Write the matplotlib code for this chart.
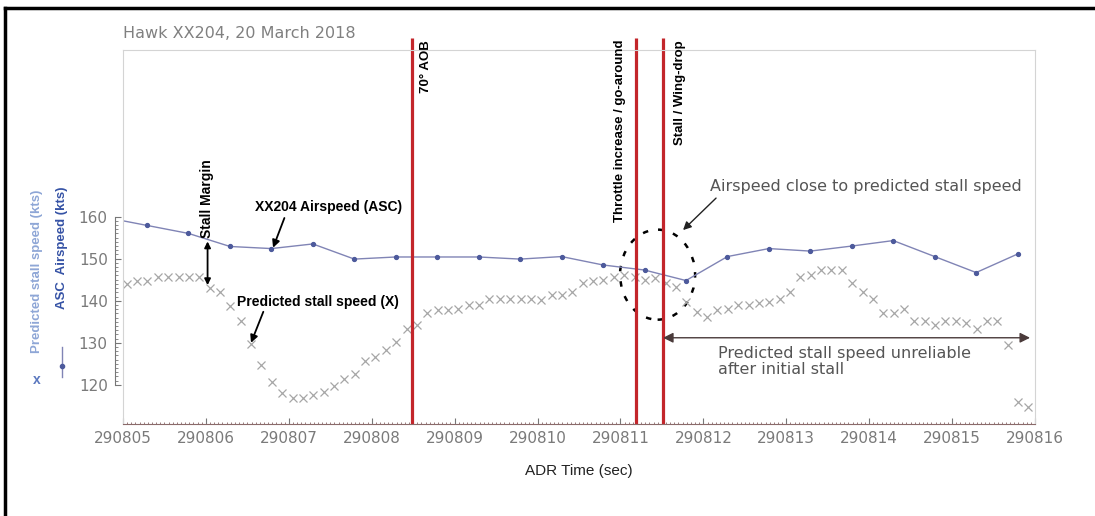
import matplotlib
matplotlib.use("Agg")
import matplotlib.pyplot as plt
from matplotlib.patches import Ellipse
from matplotlib.lines import Line2D
from matplotlib.ticker import FixedLocator, MultipleLocator

T0 = 290805

# ASC airspeed, 2 Hz (offsets in sec from 290805)
asc_t = [-0.21, 0.29, 0.79, 1.29, 1.79, 2.29, 2.79, 3.29, 3.79, 4.29, 4.79, 5.29,
         5.79, 6.29, 6.79, 7.29, 7.79, 8.29, 8.79, 9.29, 9.79, 10.29, 10.79]
asc_v = [159.8, 157.9, 156.0, 152.9, 152.4, 153.5, 149.9, 150.4, 150.4, 150.4, 149.9, 150.5,
         148.5, 147.3, 144.8, 150.5, 152.4, 151.8, 153.0, 154.3, 150.5, 146.7, 151.1]

# predicted stall speed, 8 Hz
stall_t = [0.045, 0.170, 0.295, 0.420, 0.545, 0.670, 0.795, 0.920,
           1.045, 1.170, 1.295, 1.420, 1.545, 1.670, 1.795, 1.920,
           2.045, 2.170, 2.295, 2.420, 2.545, 2.670, 2.795, 2.920,
           3.045, 3.170, 3.295, 3.420, 3.545, 3.670, 3.795, 3.920,
           4.045, 4.170, 4.295, 4.420, 4.545, 4.670, 4.795, 4.920,
           5.045, 5.170, 5.295, 5.420, 5.545, 5.670, 5.795, 5.920,
           6.045, 6.170, 6.295, 6.420, 6.545, 6.670, 6.795, 6.920,
           7.045, 7.170, 7.295, 7.420, 7.545, 7.670, 7.795, 7.920,
           8.045, 8.170, 8.295, 8.420, 8.545, 8.670, 8.795, 8.920,
           9.045, 9.170, 9.295, 9.420, 9.545, 9.670, 9.795, 9.920,
           10.045, 10.170, 10.295, 10.420, 10.545, 10.670, 10.795, 10.920]
stall_v = [144.0, 144.8, 144.8, 145.7, 145.7, 145.7, 145.7, 145.7,
           143.0, 142.1, 138.7, 135.2, 129.7, 124.7, 120.7, 118.0,
           116.8, 116.8, 117.5, 118.3, 119.7, 121.5, 122.7, 125.6,
           126.7, 128.3, 130.2, 133.3, 134.2, 137.1, 137.8, 137.8,
           138.0, 139.0, 139.0, 140.4, 140.4, 140.4, 140.4, 140.4,
           140.2, 141.4, 141.4, 142.1, 144.1, 144.8, 144.9, 145.6,
           146.1, 145.7, 144.9, 145.3, 144.1, 143.2, 139.8, 137.4,
           136.2, 137.8, 138.0, 139.0, 139.0, 139.4, 139.8, 140.3,
           142.1, 145.7, 146.1, 147.3, 147.3, 147.3, 144.1, 142.1,
           140.3, 137.1, 137.1, 138.0, 135.2, 135.2, 134.2, 135.2,
           135.2, 134.6, 133.4, 135.2, 135.2, 129.5, 116.0, 114.8]

event_t = [3.486, 6.188, 6.514]
event_labels = ["70° AOB", "Throttle increase / go-around", "Stall / Wing-drop"]
event_label_t = [3.65, 6.00, 6.72]

x_ticks = list(range(290805, 290817))
y_ticks = [120, 130, 140, 150, 160]

BOLD = dict(family="Liberation Sans", fontweight="bold", color="black")
THIN = dict(family="DejaVu Sans", color="#555555", fontsize=11.5)

fig = plt.figure(figsize=(10.95, 5.16), dpi=100)
ax = fig.add_axes([0.11233, 0.17829, 0.83288, 0.72481])

ax.plot([T0 + t for t in stall_t], stall_v, ls="none", marker="x", ms=6,
        mew=0.9, color="#a6a6a6")
ax.plot([T0 + t for t in asc_t], asc_v, color="#8084b5", lw=1.0, marker="o",
        ms=2.8, mfc="#4d5a9c", mec="#4d5a9c")

ax.set_xlim(290805, 290816)
ax.set_ylim(110.7, 199.6)

xtr = ax.get_xaxis_transform()
for t, lab, lt in zip(event_t, event_labels, event_label_t):
    ax.plot([T0 + t, T0 + t], [0, 1.032], transform=xtr, color="#c3262b",
            lw=2.3, clip_on=False, solid_capstyle="butt")
    ax.text(T0 + lt, 1.027, lab, transform=xtr, rotation=90, ha="center",
            va="top", fontsize=9.5, **BOLD)

# stall margin
ax.annotate("", xy=(T0 + 1.02, 143.7), xytext=(T0 + 1.02, 154.1),
            arrowprops=dict(arrowstyle="<|-|>", color="black", lw=1.3,
                            mutation_scale=9, shrinkA=0, shrinkB=0))
ax.text(T0 + 1.01, 164.3, "Stall Margin", rotation=90, ha="center",
        va="center", fontsize=10, **BOLD)

ax.annotate("XX204 Airspeed (ASC)", xy=(T0 + 1.81, 152.6), xytext=(T0 + 2.48, 162.3),
            ha="center", va="center", fontsize=10, **BOLD,
            arrowprops=dict(arrowstyle="-|>", color="black", lw=1.3,
                            mutation_scale=11, shrinkA=1, shrinkB=0,
                            relpos=(0.21, 0.0)))
ax.annotate("Predicted stall speed (X)", xy=(T0 + 1.544, 130.0), xytext=(T0 + 2.35, 139.7),
            ha="center", va="center", fontsize=10, **BOLD,
            arrowprops=dict(arrowstyle="-|>", color="black", lw=1.3,
                            mutation_scale=11, shrinkA=0, shrinkB=0,
                            relpos=(0.17, 0.0)))

ax.add_patch(Ellipse((T0 + 6.448, 146.2), 0.905, 21.4, fill=False,
                     ec="black", lw=1.8, ls=(0, (2.2, 4))))
ax.annotate("", xy=(T0 + 6.755, 156.8), xytext=(T0 + 7.153, 164.4),
            arrowprops=dict(arrowstyle="-|>", color="#222222", lw=1.0,
                            mutation_scale=12, shrinkA=0, shrinkB=0))
ax.text(T0 + 7.08, 167.1, "Airspeed close to predicted stall speed",
        ha="left", va="center", **THIN)

ax.annotate("", xy=(T0 + 6.514, 131.2), xytext=(T0 + 10.94, 131.2),
            arrowprops=dict(arrowstyle="<|-|>", color="#4a3a3a", lw=1.0,
                            mutation_scale=15, shrinkA=0, shrinkB=0))
ax.text(T0 + 7.18, 125.6, "Predicted stall speed unreliable\nafter initial stall",
        ha="left", va="center", linespacing=1.12, **THIN)

# axes styling
for side in ["top", "right"]:
    ax.spines[side].set_color("#d4d4d4")
    ax.spines[side].set_linewidth(0.8)
ax.plot([0, 0], [0, 1], transform=ax.transAxes, color="#d4d4d4", lw=0.8,
        clip_on=False)
ax.spines["left"].set_position(("outward", 6))
ax.spines["left"].set_bounds(120, 160)
ax.spines["left"].set_color("#777777")
ax.spines["bottom"].set_color("#8a6a6a")

ax.xaxis.set_major_locator(FixedLocator(x_ticks))
ax.set_xticklabels([str(v) for v in x_ticks])
ax.xaxis.set_minor_locator(MultipleLocator(0.05))
ax.yaxis.set_major_locator(FixedLocator(y_ticks))
ax.set_yticklabels([str(v) for v in y_ticks])
ax.yaxis.set_minor_locator(FixedLocator(list(range(120, 161))))
ax.tick_params(axis="both", which="major", direction="in", length=4,
               labelsize=11, labelcolor="#7a7a7a", color="#777777", pad=5)
ax.tick_params(axis="both", which="minor", direction="in", length=1.8,
               width=0.6, color="#8a6a6a")
ax.tick_params(axis="y", which="both", color="#777777")

ax.set_xlabel("ADR Time (sec)", family="Liberation Sans", fontsize=11,
              color="#222222", labelpad=13)

# y-axis legend labels
fig.text(37 / 1095, 1 - 271 / 516, "Predicted stall speed (kts)", rotation=90,
         ha="center", va="center", family="Liberation Sans", fontweight="bold",
         fontsize=9.5, color="#8ea6d6")
fig.text(37 / 1095, 1 - 380 / 516, "x", ha="center", va="center",
         family="Liberation Sans", fontweight="bold", fontsize=10, color="#5b78bf")
fig.text(62 / 1095, 1 - 248 / 516, "ASC  Airspeed (kts)", rotation=90,
         ha="center", va="center", family="Liberation Sans", fontweight="bold",
         fontsize=9.5, color="#3552a5")
fig.add_artist(Line2D([62 / 1095, 62 / 1095], [1 - 347 / 516, 1 - 377 / 516],
                      color="#8084b5", lw=1.0))
fig.add_artist(Line2D([62 / 1095], [1 - 366 / 516], marker="o", ms=3,
                      color="#4d5a9c", ls="none"))

fig.text(123 / 1095, 1 - 33 / 516, "Hawk XX204, 20 March 2018", ha="left",
         va="center", family="DejaVu Sans", fontsize=11.5, color="#808080")

# scanned page border
fig.add_artist(Line2D([5 / 1095, 1], [1 - 8 / 516, 1 - 8 / 516], color="black", lw=2.5))
fig.add_artist(Line2D([5 / 1095, 5 / 1095], [0, 1 - 8 / 516], color="black", lw=2.5))

fig.savefig("out.png", dpi=100)
